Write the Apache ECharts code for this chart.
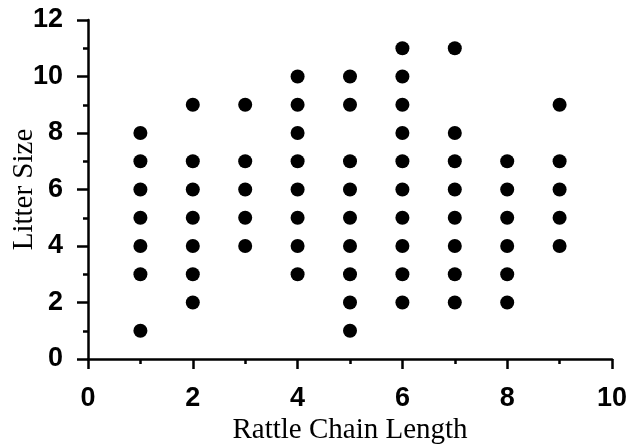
<!DOCTYPE html>
<html>
<head>
<meta charset="utf-8">
<script src="https://cdn.jsdelivr.net/npm/echarts@6/dist/echarts.min.js"></script>
<style>
html,body{margin:0;padding:0;background:#fff;}
#chart{width:630px;height:448px;}
</style>
</head>
<body>
<div id="chart"></div>
<script>
// Rattle chain length (x) and litter size (y) per column
const chainLengths = [1, 2, 3, 4, 5, 6, 7, 8, 9];
const litterSizes = [
  [8, 7, 6, 5, 4, 3, 1],
  [9, 7, 6, 5, 4, 3, 2],
  [9, 7, 6, 5, 4],
  [10, 9, 8, 7, 6, 5, 4, 3],
  [10, 9, 7, 6, 5, 4, 3, 2, 1],
  [11, 10, 9, 8, 7, 6, 5, 4, 3, 2],
  [11, 8, 7, 6, 5, 4, 3, 2],
  [7, 6, 5, 4, 3, 2],
  [9, 7, 6, 5, 4]
];
const xTitle = 'Rattle Chain Length';
const yTitle = 'Litter Size';

const points = [];
chainLengths.forEach((x, i) => {
  litterSizes[i].forEach(y => points.push([x, y]));
});

const labelFont = {
  fontFamily: '"Liberation Sans", Arial, sans-serif',
  fontWeight: 'bold',
  fontSize: 27,
  color: '#000'
};
const titleFont = {
  fontFamily: '"Liberation Serif", "Times New Roman", serif',
  fontSize: 29,
  color: '#000'
};

const chart = echarts.init(document.getElementById('chart'), null, {renderer: 'canvas'});
chart.setOption({
  animation: false,
  backgroundColor: '#fff',
  grid: {left: 88, right: 18, top: 20, bottom: 89, containLabel: false, outerBoundsMode: 'none'},
  xAxis: {
    type: 'value',
    min: 0, max: 10, interval: 2,
    name: xTitle,
    nameLocation: 'middle',
    nameGap: 57,
    nameMoveOverlap: false,
    nameTextStyle: titleFont,
    axisLine: {show: true, lineStyle: {color: '#000', width: 2.5}},
    axisTick: {show: true, length: 10, lineStyle: {color: '#000', width: 2.5}},
    minorTick: {show: true, splitNumber: 2, length: 5, lineStyle: {color: '#000', width: 2.5}},
    splitLine: {show: false},
    axisLabel: Object.assign({margin: 26}, labelFont)
  },
  yAxis: {
    type: 'value',
    min: 0, max: 12, interval: 2,
    name: yTitle,
    nameLocation: 'middle',
    nameGap: 49,
    nameRotate: 90,
    nameMoveOverlap: false,
    nameTextStyle: titleFont,
    axisLine: {show: true, lineStyle: {color: '#000', width: 2.5}},
    axisTick: {show: true, length: 11, lineStyle: {color: '#000', width: 2.5}},
    minorTick: {show: true, splitNumber: 2, length: 5, lineStyle: {color: '#000', width: 2.5}},
    splitLine: {show: false},
    axisLabel: Object.assign({margin: 25}, labelFont)
  },
  series: [{
    type: 'scatter',
    data: points,
    symbol: 'circle',
    symbolSize: 14,
    itemStyle: {color: '#000', opacity: 1}
  }]
});
</script>
</body>
</html>
